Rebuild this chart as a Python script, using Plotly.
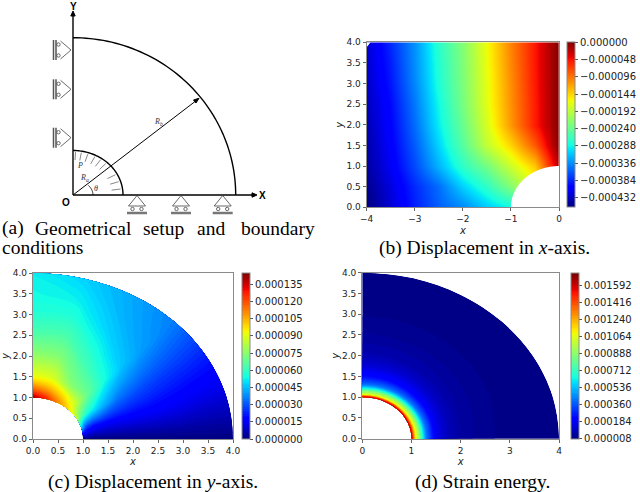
import numpy as np
import plotly.graph_objects as go

W, H = 640, 492
JET = [[0, "rgb(0,0,128)"], [.11, "rgb(0,0,255)"], [.125, "rgb(0,0,255)"], [.34, "rgb(0,219,255)"],
       [.35, "rgb(0,230,247)"], [.375, "rgb(21,255,226)"], [.64, "rgb(238,255,8)"], [.65, "rgb(247,246,0)"],
       [.66, "rgb(255,236,0)"], [.89, "rgb(255,19,0)"], [.91, "rgb(232,0,0)"], [1, "rgb(128,0,0)"]]

# Panel (b): x-displacement read on a rectangular grid (units 1e-6)
bx = [-4, -3.5, -3, -2.5, -2, -1.5, -1, -.5, 0]
by = [0, .5, 1, 1.5, 2, 2.5, 3, 3.5, 4]
bz = [[-459, -425, -388, -358, -340, -310, -290, -250, -230],
      [-452, -420, -383, -352, -307, -272, -225, -170, -120],
      [-446, -411, -368, -320, -272, -235, -185, -140, -20],
      [-442, -406, -360, -305, -250, -190, -145, -85, 0],
      [-438, -402, -352, -294, -240, -178, -115, -55, 0],
      [-435, -398, -347, -288, -232, -172, -112, -55, 0],
      [-430, -392, -340, -281, -229, -170, -110, -53, 0],
      [-428, -388, -337, -278, -227, -167, -107, -52, 0],
      [-425, -383, -335, -274, -225, -165, -105, -52, 0]]
b_ticks = [0, -48, -96, -144, -192, -240, -288, -336, -384, -432]

# Panel (c): y-displacement read on a polar grid (units 1e-6)
theta_deg = [0, 15, 30, 45, 60, 75, 90]
c_r = [1, 1.1, 1.25, 1.5, 2, 2.5, 3, 3.5, 4]
cz = [[0, 0, 0, 0, 0, 0, 0, 0, 0],
      [47, 27, 20, 17, 16, 15.5, 14, 12, 11],
      [85, 68, 56, 47, 34, 29, 26, 24, 22],
      [98, 92, 83, 70, 55, 46, 41, 38, 36],
      [112, 105, 95, 75, 64, 55, 48, 44, 42],
      [128, 118, 105, 90, 75, 65, 57, 52, 48],
      [142, 128, 113, 93, 77, 65, 57, 54, 52]]
c_ticks = [0, 15, 30, 45, 60, 75, 90, 105, 120, 135]

# Panel (d): strain energy read on a polar grid (units 1e-6)
d_r = [1, 1.03, 1.06, 1.1, 1.15, 1.2, 1.3, 1.5, 1.75, 2, 2.5, 3, 4]
dz = [[1650, 1450, 1250, 1070, 930, 760, 440, 170, 90, 55, 30, 18, 8],
      [1650, 1440, 1225, 1055, 920, 750, 437, 180, 98, 60, 32, 19, 8],
      [1650, 1430, 1200, 1035, 910, 740, 433, 190, 106, 65, 35, 20, 8],
      [1650, 1425, 1175, 1025, 900, 725, 430, 200, 115, 70, 37, 21, 8],
      [1650, 1415, 1150, 1005, 890, 710, 427, 215, 125, 75, 40, 22, 8],
      [1650, 1405, 1125, 990, 880, 700, 423, 225, 132, 80, 42, 23, 8],
      [1650, 1400, 1100, 980, 870, 690, 420, 235, 140, 85, 45, 24, 8]]
d_ticks = [8, 184, 360, 536, 712, 888, 1064, 1240, 1416, 1592]

fig = go.Figure()
shapes, annos = [], []

def dom_x(a, b): return [a / W, b / W]
def dom_y(t, b): return [1 - b / H, 1 - t / H]

def axes(n, px, py, xr, xt, xfmt, ystand=3):
    fr = dict(showline=True, mirror=True, linecolor="#8a8a8a", linewidth=1.3, ticks="outside", ticklen=3,
              tickcolor="#666", tickwidth=1, showgrid=False, zeroline=False, tickfont=dict(family="DejaVu Sans", size=9, color="#222"))
    fig.layout[f"xaxis{n}"] = dict(fr, domain=dom_x(*px), range=xr, tickvals=xt, tickformat=xfmt, anchor=f"y{n}",
                                   title=dict(text="<i>x</i>", font=dict(family="DejaVu Sans", size=10, color="#222"), standoff=3))
    fig.layout[f"yaxis{n}"] = dict(fr, domain=dom_y(*py), range=[0, 4], tickvals=by, tickformat=".1f", anchor=f"x{n}",
                                   title=dict(text="<i>y</i>", font=dict(family="DejaVu Sans", size=10, color="#222"), standoff=ystand))

def cbar(cx, py, vals, texts):
    return dict(x=cx[0] / W, xanchor="left", xpad=0, ypad=0, thickness=cx[1] - cx[0], thicknessmode="pixels",
                y=1 - py[1] / H, yanchor="bottom", len=(py[1] - py[0]) / H, lenmode="fraction",
                tickvals=vals, ticktext=texts, ticks="outside", ticklen=3, tickcolor="#555", tickwidth=1,
                outlinecolor="#8a8a8a", outlinewidth=1, tickfont=dict(family="DejaVu Sans", size=10, color="#222"))

def label(v):
    return ("\u2212" if v < 0 else "") + f"{abs(v) * 1e-6:.6f}"

# pixel overlay for schematic / captions
fig.layout.xaxis = dict(domain=[0, 1], range=[0, W], visible=False, fixedrange=True)
fig.layout.yaxis = dict(domain=[0, 1], range=[H, 0], visible=False, fixedrange=True)

# ---- panel b
pb = ((366.7, 559), (42.3, 207.3))
axes(2, pb[0], pb[1], [-4, 0], [-4, -3, -2, -1, 0], "d", 0)
fig.add_trace(go.Heatmap(x=bx, y=by, z=bz, zsmooth="best", colorscale=JET, zmin=-459, zmax=0, xaxis="x2", yaxis="y2",
                         colorbar=cbar((567.3, 575.7), pb[1], b_ticks, [label(v) if v else "0.000000" for v in b_ticks])))
arc = np.radians(np.linspace(90, 180, 60))
fig.add_trace(go.Scatter(x=np.r_[np.cos(arc), 0], y=np.r_[np.sin(arc), 0], fill="toself", fillcolor="white", mode="none",
                         xaxis="x2", yaxis="y2", showlegend=False, hoverinfo="skip"))
fig.add_trace(go.Scatter(x=[-4, -3.92, -4, -4], y=[4, 4, 3.88, 4], fill="toself", fillcolor="white", mode="none",
                         xaxis="x2", yaxis="y2", showlegend=False, hoverinfo="skip"))

# ---- polar panels
def polar(n, px, py, cx, r, z, zr, ticks, xt, xfmt, ystand):
    axes(n, px, py, [0, 4], xt, xfmt, ystand)
    th = np.radians(theta_deg)
    R, T = np.meshgrid(r, th)
    ax = dict(showticklabels="none", showgrid=False, showline=False, startline=False, endline=False, minorgridcount=0, smoothing=1)
    cid = f"c{n}"
    fig.add_trace(go.Carpet(carpet=cid, a=r, b=theta_deg, x=(R * np.cos(T)).tolist(), y=(R * np.sin(T)).tolist(),
                            aaxis=ax, baxis=ax, xaxis=f"x{n}", yaxis=f"y{n}"))
    size = (zr[1] - zr[0]) / 100
    fig.add_trace(go.Contourcarpet(carpet=cid, a=r, b=theta_deg, z=z, autocontour=False, zmin=zr[0], zmax=zr[1], colorscale=JET,
                                   contours=dict(start=zr[0], end=zr[1], size=size, coloring="fill", showlines=False),
                                   line=dict(width=0), xaxis=f"x{n}", yaxis=f"y{n}",
                                   colorbar=cbar(cx, py, ticks, [label(v) for v in ticks])))

polar(3, (33, 233), (273, 439), (242, 250), c_r, cz, (0, 145), c_ticks, [0, .5, 1, 1.5, 2, 2.5, 3, 3.5, 4], ".1f", 3)
polar(4, (362.3, 559), (272.7, 438.7), (571, 579.3), d_r, dz, (8, 1727), d_ticks, [0, 1, 2, 3, 4], "d", 0)

# ---- panel a schematic (pixel coordinates)
O = (73, 195)
def pline(x0, y0, x1, y1, w=1, c="black"):
    shapes.append(dict(type="line", xref="x", yref="y", x0=x0, y0=y0, x1=x1, y1=y1, line=dict(color=c, width=w)))
def ppath(pts, fill=None, w=1, c="black", close=False):
    d = "M" + "L".join(f"{x:.2f},{y:.2f}" for x, y in pts) + ("Z" if close else "")
    shapes.append(dict(type="path", xref="x", yref="y", path=d, fillcolor=fill or "rgba(0,0,0,0)", line=dict(color=c, width=w)))
def ell(rx, ry, a0=0, a1=90, n=60):
    t = np.radians(np.linspace(a0, a1, n))
    return list(zip(O[0] + rx * np.cos(t), O[1] - ry * np.sin(t)))
def circ(x, y, r=1.7, c="#444"):
    shapes.append(dict(type="circle", xref="x", yref="y", x0=x - r, x1=x + r, y0=y - r, y1=y + r, line=dict(color=c, width=.8)))

pline(O[0], O[1], O[0], 15, 1.4)
pline(O[0], O[1], 253, O[1], 1.4)
ppath([(70.8, 16), (73, 11), (75.2, 16)], fill="black", close=True)
ppath([(252, 192.8), (257, 195), (252, 197.2)], fill="black", close=True)
ppath(ell(162.7, 157.3), w=1.4)
ppath(ell(50, 44.5), w=1.4)
ppath(ell(20, 15, 0, 40, 15), w=.8)
pline(O[0], O[1], 197, 100, 1)
ppath([(193.5, 100), (199, 98.3), (196, 103)], fill="black", close=True)
for a in [8, 18, 28, 47, 55, 63, 72, 80, 87]:
    t = np.radians(a)
    pline(O[0] + 39 * np.cos(t), O[1] - 35 * np.sin(t), O[0] + 48 * np.cos(t), O[1] - 43 * np.sin(t), .7, "#555")

for yc in [50, 89.3, 137.7]:
    ppath([(60.5, yc - 9), (71, yc), (60.5, yc + 9)], w=.8, c="#444")
    pline(53.5, yc - 10, 53.5, yc + 10, 1.5, "#555")
    pline(56, yc - 10, 56, yc + 10, 1.5, "#555")
    circ(58.5, yc - 5.5)
    circ(58.5, yc + 5.5)
for xc in [137, 181, 222.7]:
    ppath([(xc - 8.5, 206), (xc, 195.5), (xc + 8.5, 206)], w=.8, c="#444")
    pline(xc - 8.5, 206, xc + 8.5, 206, .8, "#444")
    circ(xc - 4.5, 209)
    circ(xc + 4.5, 209)
    pline(xc - 10, 213, xc + 10, 213, 2.5, "#777")

def text(x, y, s, size=19.5, fam="Liberation Serif", anchor="left", col="black"):
    annos.append(dict(xref="x", yref="y", x=x, y=y, text=s, showarrow=False, xanchor=anchor, yanchor="middle",
                      font=dict(family=fam, size=size, color=col), borderpad=0, borderwidth=0))
text(73, 6, "<b>Y</b>", 10, "Liberation Sans", "center")
text(262, 195.5, "<b>X</b>", 10, "Liberation Sans", "center")
text(66, 202.5, "<b>O</b>", 10, "Liberation Sans", "center")
text(158, 122, "<i>R<sub>b</sub></i>", 8, anchor="center", col="#334")
text(80, 165, "<i>P</i>", 8, anchor="center", col="#334")
text(84, 178, "<i>R<sub>a</sub></i>", 8, anchor="center", col="#334")
text(96, 188, "<i>\u03b8</i>", 8, anchor="center", col="#334")

for x, s in [(2, "(a)"), (35, "Geometrical"), (143, "setup"), (197, "and"), (241, "boundary")]:
    text(x, 228, s)
text(2, 247, "conditions")
text(484, 248, "(b) Displacement in <i>x</i>-axis.", anchor="center")
text(153, 481.5, "(c) Displacement in <i>y</i>-axis.", anchor="center")
text(482, 481.5, "(d) Strain energy.", anchor="center")

fig.update_layout(width=W, height=H, autosize=False, margin=dict(l=0, r=0, t=0, b=0, pad=0, autoexpand=False), paper_bgcolor="white",
                  plot_bgcolor="rgba(0,0,0,0)", shapes=shapes, annotations=annos, showlegend=False)
fig.add_trace(go.Scatter(x=[0], y=[0], mode="none", xaxis="x", yaxis="y", showlegend=False, hoverinfo="skip"))
fig.write_html("out.html", post_script="document.body.style.margin='0';document.body.style.overflow='hidden';", config=dict(displayModeBar=False))
